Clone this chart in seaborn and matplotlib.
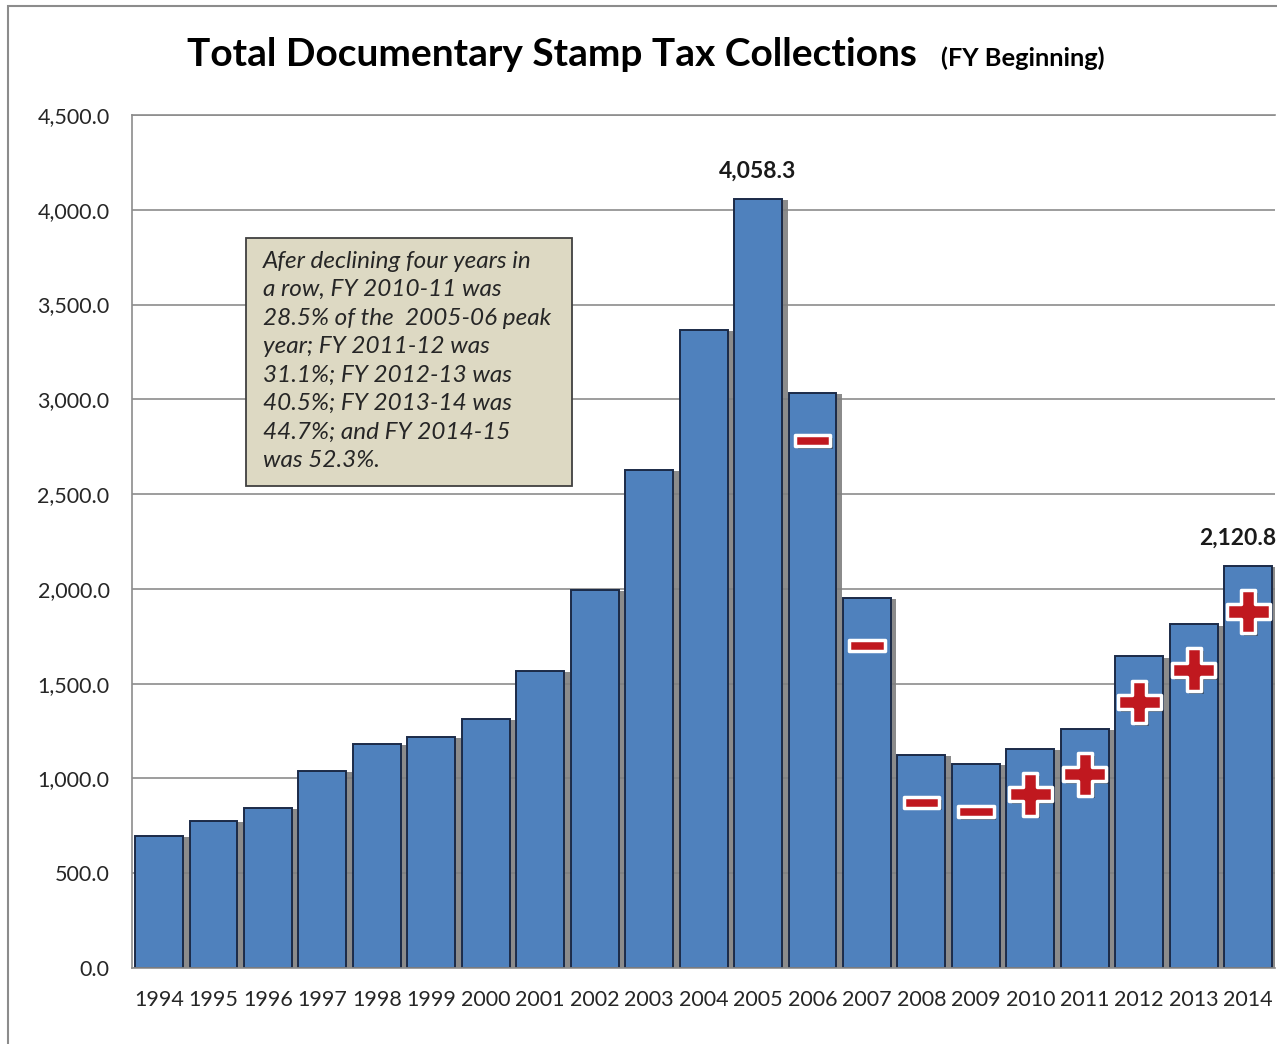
import numpy as np
import pandas as pd
import matplotlib
matplotlib.use('Agg')
import matplotlib.pyplot as plt
import matplotlib.patheffects as pe
from matplotlib.patches import Rectangle
from matplotlib.path import Path
import seaborn as sns

years = ['1994', '1995', '1996', '1997', '1998', '1999', '2000', '2001', '2002', '2003', '2004',
         '2005', '2006', '2007', '2008', '2009', '2010', '2011', '2012', '2013', '2014']
collections = [696, 775, 844, 1039, 1182, 1219, 1314, 1567, 1994, 2627, 3366,
               4058.3, 3033, 1952, 1124, 1076, 1156.6, 1262.1, 1643.6, 1814.1, 2120.8]
# change vs. prior year shown on the bars
signs = ['', '', '', '', '', '', '', '', '', '', '',
         '', '-', '-', '-', '-', '+', '+', '+', '+', '+']
labelled_years = ['2005', '2014']
note = ("Afer declining four years in\n"
        "a row, FY 2010-11 was\n"
        "28.5% of the  2005-06 peak\n"
        "year; FY 2011-12 was\n"
        "31.1%; FY 2012-13 was\n"
        "40.5%; FY 2013-14 was\n"
        "44.7%; and FY 2014-15\n"
        "was 52.3%.")

df = pd.DataFrame({'year': years, 'value': collections, 'sign': signs})

sns.set_style('white')
plt.rcParams['font.family'] = ['Lato', 'DejaVu Sans']

fig = plt.figure(figsize=(12.77, 10.44), dpi=100)
ax = fig.add_axes([0.1032, 0.0728, 0.8955, 0.817])

sns.barplot(data=df, x='year', y='value', color='#4F81BD', saturation=1,
            edgecolor='#1B2A47', linewidth=1.4, width=0.88, ax=ax)
for bar in ax.patches:
    bar.set_path_effects([pe.SimplePatchShadow(offset=(4, -1), shadow_rgbFace='#7F7F7F', alpha=0.9),
                          pe.Normal()])

ax.set_xlim(-0.5, len(years) - 0.5)
ax.set_ylim(0, 4500)
ax.set_yticks(np.arange(0, 4501, 500))
ax.set_yticklabels([f'{v:,.1f}' for v in np.arange(0, 4501, 500)])
ax.yaxis.grid(True, color='#8C8C8C', linewidth=1.2)
ax.set_axisbelow(True)
ax.set_xlabel('')
ax.set_ylabel('')
ax.tick_params(axis='y', labelsize=15.5, labelcolor='#262626', length=5, color='#8C8C8C', pad=11)
ax.tick_params(axis='x', labelsize=15.5, labelcolor='#262626', length=0, pad=16)
for s in ['left', 'top', 'bottom']:
    ax.spines[s].set_color('#8C8C8C')
    ax.spines[s].set_linewidth(1.2)
ax.spines['right'].set_visible(False)

# value labels
for i, (y, v) in enumerate(zip(years, collections)):
    if y in labelled_years:
        ha = 'right' if i == len(years) - 1 else 'center'
        xpos = i + 0.52 if ha == 'right' else i
        ax.text(xpos, v + 90, f'{v:,.1f}', ha=ha, va='bottom', fontsize=16.5,
                fontweight='bold', color='#1A1A1A')

# plus / minus markers
minus_path = Path([(-1, -0.3), (1, -0.3), (1, 0.3), (-1, 0.3), (-1, -0.3)],
                  [Path.MOVETO, Path.LINETO, Path.LINETO, Path.LINETO, Path.CLOSEPOLY])
shadow = [pe.SimplePatchShadow(offset=(2, -2), shadow_rgbFace='#333333', alpha=0.5), pe.Normal()]
for i, (v, s) in enumerate(zip(collections, signs)):
    if not s:
        continue
    if s == '+':
        pts = ax.scatter([i], [v - 240], marker='P', s=950, color='#C0181F',
                         edgecolor='white', linewidth=2.5, zorder=5)
    else:
        pts = ax.scatter([i], [v - 250], marker=minus_path, s=650, color='#C0181F',
                         edgecolor='white', linewidth=2.5, zorder=5)
    pts.set_path_effects(shadow)

# note box
ax.add_patch(Rectangle((1.6, 2542), 5.985, 1309, facecolor='#DDD9C3',
                       edgecolor='#404040', linewidth=1.3, zorder=6))
ax.text(1.91, 3785, note, ha='left', va='top', fontsize=17.5, style='italic',
        color='#262626', linespacing=1.44, zorder=7)

# title
title = fig.text(187 / 1277, 1 - 66 / 1044, 'Total Documentary Stamp Tax Collections',
                 fontsize=28, fontweight='bold', color='black', va='baseline', ha='left')
fig.canvas.draw()
bb = title.get_window_extent()
fig.text((bb.x1 + 24) / fig.bbox.width, 1 - 66 / 1044, '(FY Beginning)',
         fontsize=18.3, fontweight='bold', color='black', va='baseline', ha='left')

# outer chart border
fig.patches.append(Rectangle((8 / 1277, -0.01), 1.1, 1 - 6 / 1044 + 0.01,
                             transform=fig.transFigure, fill=False,
                             edgecolor='#8C8C8C', linewidth=1.5))

fig.savefig('out.png', dpi=100)
plt.close(fig)
